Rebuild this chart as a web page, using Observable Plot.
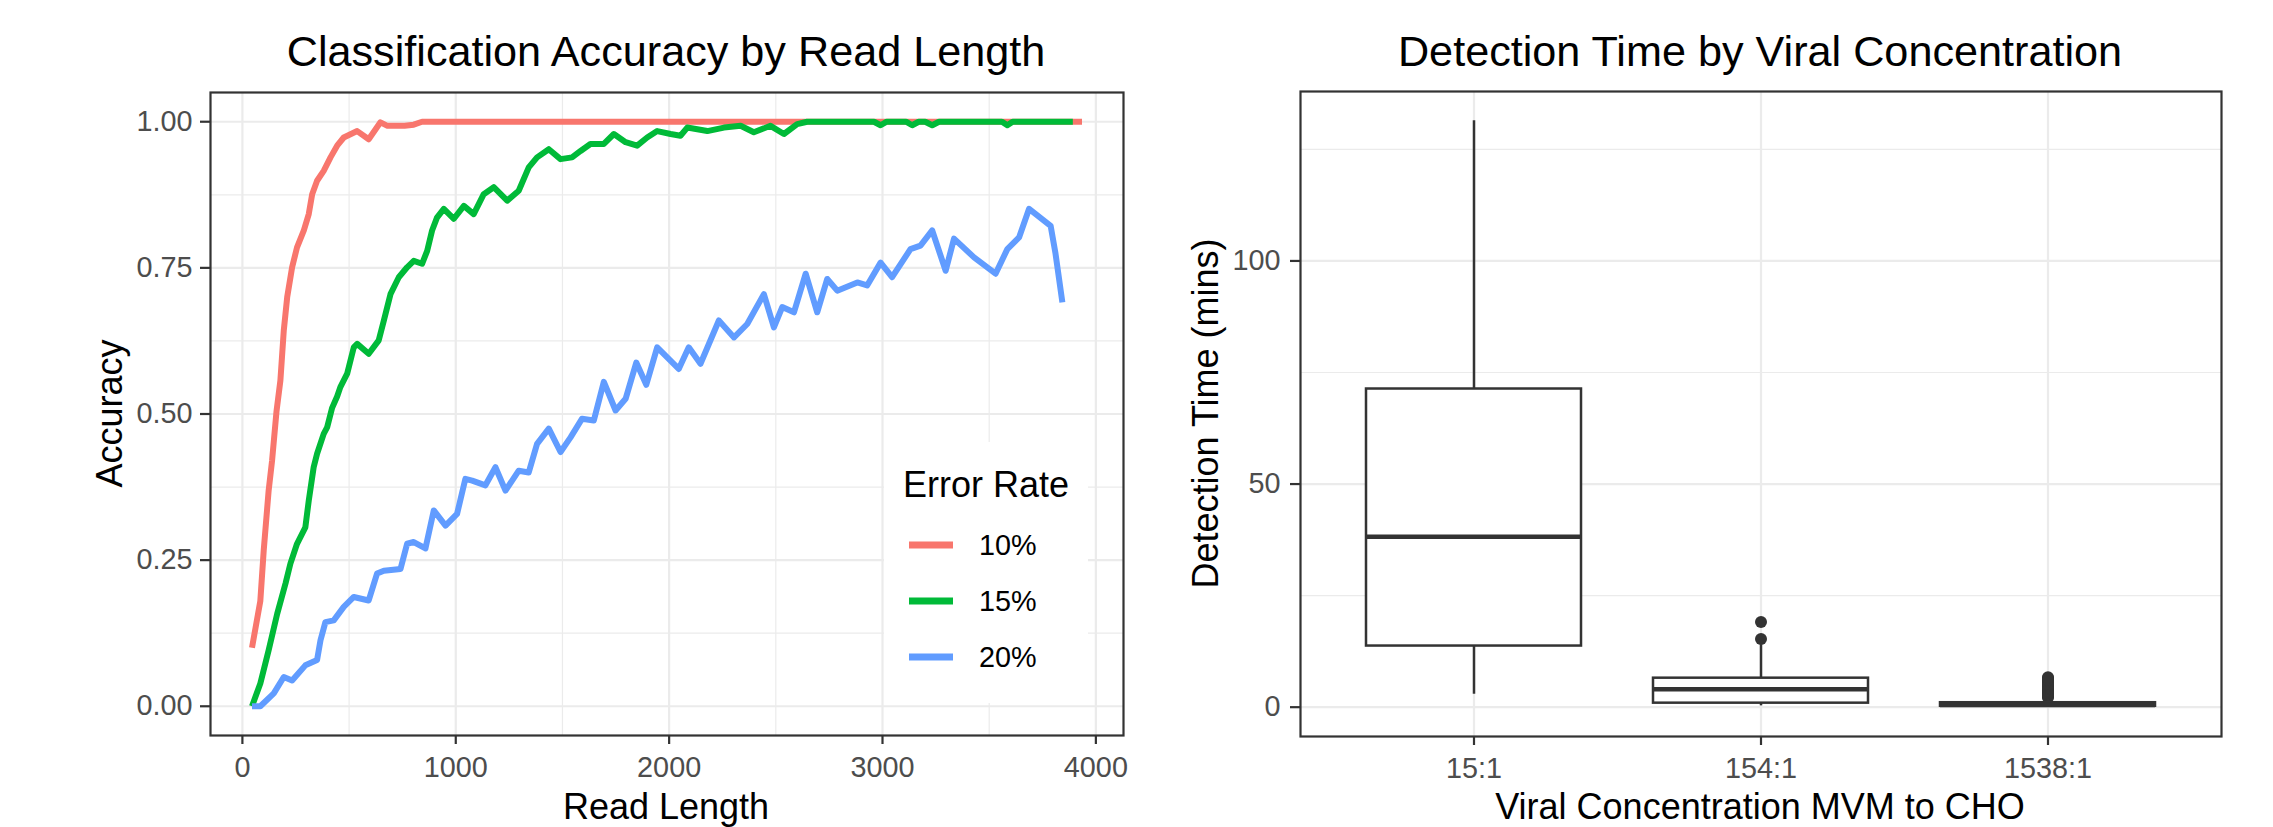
<!DOCTYPE html>
<html>
<head>
<meta charset="utf-8">
<script src="https://cdn.jsdelivr.net/npm/d3@7"></script>
<script src="https://cdn.jsdelivr.net/npm/@observablehq/plot@0.6"></script>
<style>
html, body { margin: 0; padding: 0; background: #ffffff; }
#wrap { position: relative; width: 2273px; height: 827px; overflow: hidden; background: #ffffff; }
#wrap > svg { position: absolute; top: 0; }
</style>
</head>
<body>
<div id="wrap"></div>
<script>
const FONT = '"Liberation Sans", Arial, Helvetica, sans-serif';

// ---------- Left panel data: Classification accuracy by read length ----------
const errorRates = ["10%", "15%", "20%"];
const errorColors = ["#F8766D", "#00BA38", "#619CFF"];

const len10 = [45, 84, 100, 123, 139, 160, 178, 194, 210, 233, 256, 288, 311, 327, 350, 381, 413, 444, 475, 538, 592, 647, 680, 760, 803, 842, 3935];
const acc10 = [0.10, 0.18, 0.267, 0.369, 0.42, 0.505, 0.557, 0.643, 0.70, 0.751, 0.785, 0.814, 0.842, 0.876, 0.899, 0.916, 0.939, 0.959, 0.973, 0.984, 0.970, 0.999, 0.993, 0.993, 0.995, 1.0, 1.0];

const len15 = [45, 84, 123, 163, 202, 225, 256, 295, 311, 334, 350, 381, 397, 420, 444, 459, 491, 522, 538, 592, 639, 663, 694, 733, 772, 803, 842, 866, 889, 912, 944, 991, 1038, 1084, 1131, 1178, 1241, 1295, 1342, 1381, 1436, 1491, 1545, 1585, 1631, 1694, 1741, 1796, 1850, 1897, 1944, 2007, 2053, 2085, 2179, 2257, 2335, 2397, 2475, 2538, 2600, 2647, 2960, 2991, 3020, 3110, 3139, 3170, 3200, 3233, 3265, 3560, 3585, 3610, 3892];
const acc15 = [0.0, 0.039, 0.096, 0.158, 0.21, 0.244, 0.278, 0.306, 0.352, 0.409, 0.432, 0.466, 0.477, 0.51, 0.53, 0.546, 0.569, 0.614, 0.62, 0.603, 0.626, 0.66, 0.705, 0.734, 0.751, 0.762, 0.757, 0.779, 0.814, 0.836, 0.851, 0.834, 0.856, 0.842, 0.876, 0.888, 0.865, 0.882, 0.922, 0.939, 0.953, 0.936, 0.939, 0.95, 0.962, 0.962, 0.979, 0.965, 0.959, 0.973, 0.984, 0.979, 0.976, 0.99, 0.984, 0.99, 0.993, 0.982, 0.993, 0.979, 0.996, 1.0, 1.0, 0.994, 1.0, 1.0, 0.994, 1.0, 1.0, 0.994, 1.0, 1.0, 0.994, 1.0, 1.0];

const len20 = [45, 84, 147, 194, 233, 295, 350, 366, 389, 428, 475, 522, 592, 631, 663, 741, 772, 803, 858, 897, 952, 1006, 1045, 1077, 1139, 1186, 1233, 1295, 1342, 1381, 1436, 1491, 1538, 1592, 1647, 1694, 1749, 1796, 1846, 1893, 1944, 2045, 2092, 2147, 2233, 2304, 2366, 2444, 2491, 2530, 2585, 2640, 2694, 2741, 2788, 2882, 2928, 2991, 3045, 3131, 3178, 3233, 3296, 3335, 3429, 3530, 3585, 3640, 3687, 3788, 3811, 3843];
const acc20 = [0.0, 0.0, 0.022, 0.05, 0.044, 0.07, 0.079, 0.113, 0.144, 0.147, 0.17, 0.187, 0.181, 0.227, 0.232, 0.235, 0.278, 0.281, 0.27, 0.335, 0.309, 0.329, 0.389, 0.386, 0.378, 0.409, 0.369, 0.403, 0.40, 0.449, 0.475, 0.435, 0.46, 0.492, 0.489, 0.555, 0.506, 0.526, 0.588, 0.55, 0.614, 0.577, 0.614, 0.586, 0.66, 0.631, 0.654, 0.705, 0.648, 0.683, 0.674, 0.74, 0.674, 0.731, 0.711, 0.725, 0.72, 0.759, 0.734, 0.782, 0.788, 0.814, 0.745, 0.80, 0.768, 0.74, 0.782, 0.802, 0.851, 0.822, 0.774, 0.691];

const accXTicks = [0, 1000, 2000, 3000, 4000];
const accXMinor = [500, 1500, 2500, 3500];
const accYTicks = [0, 0.25, 0.5, 0.75, 1];
const accYMinor = [0.125, 0.375, 0.625, 0.875];

// ---------- Right panel data: Detection time by viral concentration ----------
const concentrations = ["15:1", "154:1", "1538:1"];
const q1 = [13.7, 0.9, 0.2];
const medians = [38.2, 4.0, 0.5];
const q3 = [71.3, 6.5, 1.0];
const whiskerLow = [2.9, 0.3, 0.0];
const whiskerHigh = [131.4, 14.0, 1.9];
const outliers154 = [15.3, 19.1];
const outliers1538 = [2.2, 2.4, 2.6, 2.8, 3.0, 3.2, 3.4, 3.6, 3.8, 4.0, 4.2, 4.4, 4.6, 4.8, 5.0, 5.3, 5.6, 5.9, 6.2, 6.5, 6.7];

const timeYTicks = [0, 50, 100];
const timeYMinor = [25, 75, 125];

// ---------- Styles ----------
const GRID = "#EBEBEB";
const DARK = "#333333";
const TICKTXT = "#4D4D4D";
const TICKFS = 28.8;

const wrap = document.getElementById("wrap");

// ---------- Left plot ----------
const lineData = [
  ...len10.map((x, i) => ({len: x, acc: acc10[i], rate: errorRates[0]})),
  ...len15.map((x, i) => ({len: x, acc: acc15[i], rate: errorRates[1]})),
  ...len20.map((x, i) => ({len: x, acc: acc20[i], rate: errorRates[2]}))
];
const [lx0, lx1] = d3.extent(lineData, d => d.len);
const lxp = 0.05 * (lx1 - lx0);
const [ly0, ly1] = d3.extent(lineData, d => d.acc);
const lyp = 0.05 * (ly1 - ly0);

const leftPlot = Plot.plot({
  width: 1150, height: 827,
  marginLeft: 210, marginRight: 27, marginTop: 92, marginBottom: 92,
  style: {fontFamily: FONT, background: "transparent", overflow: "visible"},
  x: {domain: [lx0 - lxp, lx1 + lxp]},
  y: {domain: [ly0 - lyp, ly1 + lyp]},
  color: {domain: errorRates, range: errorColors},
  marks: [
    Plot.ruleX(accXMinor, {stroke: GRID, strokeWidth: 1.2}),
    Plot.ruleY(accYMinor, {stroke: GRID, strokeWidth: 1.2}),
    Plot.ruleX(accXTicks, {stroke: GRID, strokeWidth: 2.2}),
    Plot.ruleY(accYTicks, {stroke: GRID, strokeWidth: 2.2}),
    Plot.line(lineData, {x: "len", y: "acc", z: "rate", stroke: "rate", strokeWidth: 6, strokeLinejoin: "round", strokeLinecap: "butt"}),
    Plot.frame({stroke: DARK, strokeWidth: 2.2}),
    Plot.axisX(accXTicks, {tickSize: 9, tickPadding: 12, fontSize: TICKFS, fill: TICKTXT, stroke: DARK, strokeWidth: 2.2, tickFormat: d3.format("d"), label: null}),
    Plot.axisY(accYTicks, {tickSize: 10, tickPadding: 8, fontSize: TICKFS, fill: TICKTXT, stroke: DARK, strokeWidth: 2.2, tickFormat: d3.format(".2f"), label: null})
  ]
});
leftPlot.style.left = "0px";
wrap.appendChild(leftPlot);

// ---------- Right plot ----------
const boxes = concentrations.map((c, i) => ({cat: c, q1: q1[i], med: medians[i], q3: q3[i], lo: whiskerLow[i], hi: whiskerHigh[i]}));
const outlierData = [
  ...outliers154.map(v => ({cat: concentrations[1], v})),
  ...outliers1538.map(v => ({cat: concentrations[2], v}))
];
const ry0 = d3.min(whiskerLow), ry1 = d3.max(whiskerHigh);
const ryp = 0.05 * (ry1 - ry0);

const rightPlot = Plot.plot({
  width: 1123, height: 827,
  marginLeft: 150, marginRight: 52, marginTop: 91, marginBottom: 91,
  style: {fontFamily: FONT, background: "transparent", overflow: "visible"},
  x: {type: "band", domain: concentrations, paddingInner: 0.25, paddingOuter: 0.225},
  y: {domain: [ry0 - ryp, ry1 + ryp]},
  marks: [
    Plot.ruleY(timeYMinor, {stroke: GRID, strokeWidth: 1.2}),
    Plot.ruleY(timeYTicks, {stroke: GRID, strokeWidth: 2.2}),
    Plot.ruleX(concentrations, {x: d => d, stroke: GRID, strokeWidth: 2.2}),
    Plot.dot(outlierData, {x: "cat", y: "v", r: 6, fill: DARK, stroke: null}),
    Plot.ruleX(boxes, {x: "cat", y1: "q3", y2: "hi", stroke: DARK, strokeWidth: 2.5}),
    Plot.ruleX(boxes, {x: "cat", y1: "lo", y2: "q1", stroke: DARK, strokeWidth: 2.5}),
    Plot.barY(boxes, {x: "cat", y1: "q1", y2: "q3", fill: "white", stroke: DARK, strokeWidth: 2.5}),
    Plot.tickY(boxes, {x: "cat", y: "med", stroke: DARK, strokeWidth: 4.5}),
    Plot.frame({stroke: DARK, strokeWidth: 2.2}),
    Plot.axisX({tickSize: 9, tickPadding: 12, fontSize: TICKFS, fill: TICKTXT, stroke: DARK, strokeWidth: 2.2, label: null}),
    Plot.axisY(timeYTicks, {tickSize: 10, tickPadding: 10, fontSize: TICKFS, fill: TICKTXT, stroke: DARK, strokeWidth: 2.2, label: null})
  ]
});
rightPlot.style.left = "1150px";
wrap.appendChild(rightPlot);

// ---------- Text overlay: titles, axis titles, legend ----------
const ov = d3.select(wrap).append("svg")
  .attr("width", 2273).attr("height", 827)
  .style("left", "0px").style("pointer-events", "none")
  .style("font-family", FONT);

function txt(x, y, s, size, opts = {}) {
  const t = ov.append("text").attr("x", x).attr("y", y).text(s)
    .attr("font-size", size).attr("fill", opts.fill || "#000000")
    .attr("text-anchor", opts.anchor || "middle");
  if (opts.rotate) t.attr("transform", `rotate(-90, ${x}, ${y})`);
  return t;
}
txt(666, 66, "Classification Accuracy by Read Length", 43.2);
txt(1760, 66, "Detection Time by Viral Concentration", 43.2);
txt(666, 819, "Read Length", 36);
txt(1760, 819, "Viral Concentration MVM to CHO", 36);
txt(122, 413.5, "Accuracy", 36, {rotate: true});
txt(1218, 413.5, "Detection Time (mins)", 36, {rotate: true});

// legend
ov.append("rect").attr("x", 884).attr("y", 442).attr("width", 204).attr("height", 261).attr("fill", "#ffffff");
txt(903, 497, "Error Rate", 36, {anchor: "start"});
errorRates.forEach((r, i) => {
  const cy = 545 + i * 56;
  ov.append("line").attr("x1", 909).attr("x2", 953).attr("y1", cy).attr("y2", cy)
    .attr("stroke", errorColors[i]).attr("stroke-width", 7);
  txt(979, cy + 10.3, r, TICKFS, {anchor: "start"});
});
</script>
</body>
</html>
